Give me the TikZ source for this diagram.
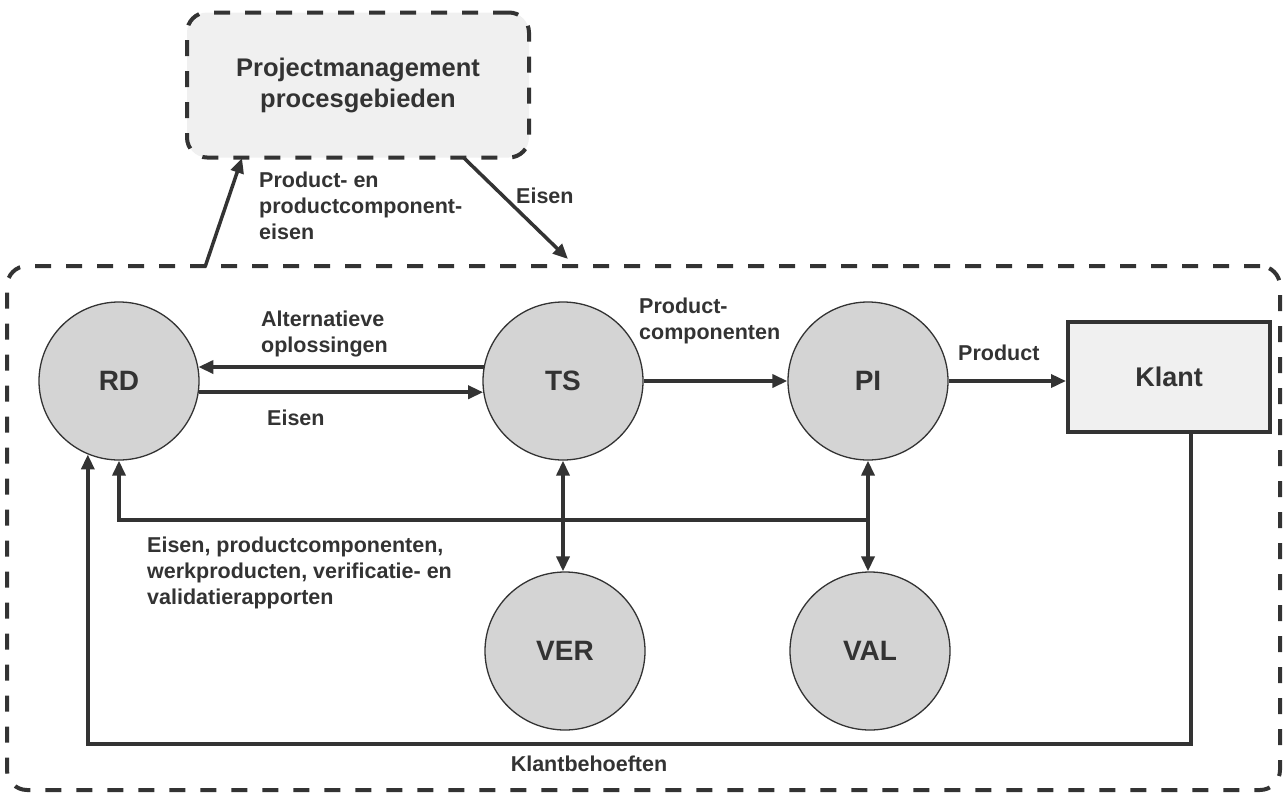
\documentclass[tikz,border=0pt]{standalone}
\usepackage{fontspec}
\setmainfont{Liberation Sans}
\usetikzlibrary{shapes.geometric,arrows.meta,calc}
\definecolor{ink}{HTML}{333333}
\definecolor{bubble}{HTML}{D4D4D4}
\definecolor{pale}{HTML}{F0F0F0}
\begin{document}
\begin{tikzpicture}[x=1pt,y=-1pt,
  lbl/.style={font=\fontsize{21.5}{26}\selectfont\bfseries, text=ink, align=left, inner sep=0pt, anchor=north west},
  proc/.style={ellipse, draw=ink, line width=1.3pt, fill=bubble, minimum width=160pt, minimum height=158pt, inner sep=0pt, text=ink, font=\fontsize{28}{32}\selectfont\bfseries},
  zone/.style={draw=ink, line width=4pt, dash pattern=on 16pt off 15pt, rounded corners=20pt, inner sep=0pt},
  tip/.tip={Triangle[length=15pt,width=13pt]},
  arr/.style={draw=ink, line width=3.5pt, -tip},
  darr/.style={draw=ink, line width=3.5pt, tip-tip},
  wire/.style={draw=ink, line width=3.5pt}
]
\useasboundingbox (0,0) rectangle (1283,793);

% engineering area and project management block
\node[zone, minimum width=1273pt, minimum height=524pt] (sys) at (643.5,528) {};
\node[zone, fill=pale, minimum width=342pt, minimum height=145pt, align=center,
      text=ink, font=\fontsize{25.5}{31}\selectfont\bfseries] (pm) at (358,85)
      {Projectmanagement\\procesgebieden};

% process areas
\node[proc] (RD)  at (119,381) {RD};
\node[proc] (TS)  at (563,381) {TS};
\node[proc] (PI)  at (868,381) {PI};
\node[proc] (VER) at (565,651) {VER};
\node[proc] (VAL) at (870,651) {VAL};
\node[draw=ink, line width=4pt, fill=pale, minimum width=202pt, minimum height=110pt,
      inner sep=0pt, text=ink, font=\fontsize{27}{32}\selectfont\bfseries] (Klant) at (1169,377) {Klant};

% links to project management
\coordinate (pe0) at (205,267);
\coordinate (pe1) at (242,158);
\draw[arr] (pe0) -- (pe1);
\coordinate (ei0) at (464,158);
\coordinate (ei1) at (568,259);
\draw[arr] (ei0) -- (ei1);

% main flow
\draw[arr] (TS.170) -- (RD.10);
\draw[arr] (RD.-8) -- (TS.188);
\draw[arr] (TS.east) -- (PI.west);
\draw[arr] (PI.east) -- (PI.east -| Klant.west);
\draw[darr] (TS.south) -- (TS.south |- VER.north);
\draw[darr] (PI.south) -- (PI.south |- VAL.north);

% feedback to RD
\coordinate (fb) at (868,520);
\draw[arr] (fb) -| (RD.south);
\coordinate (kb) at (1191,744);
\draw[arr] (kb |- Klant.south) -- (kb) -| (RD.247);

% labels
\node[lbl] (lpe) at (259,171.5) {Product- en\\productcomponent-\\eisen};
\node[lbl] (lei) at (516,187.5) {Eisen};
\node[lbl] (lalt) at (261,310.5) {Alternatieve\\oplossingen};
\node[lbl] (leis) at (267,409.5) {Eisen};
\node[lbl] (lpc) at (639,297.5) {Product-\\componenten};
\node[lbl] (lpr) at (958,344.5) {Product};
\node[lbl] (lfb) at (147,536.5) {Eisen, productcomponenten,\\werkproducten, verificatie- en\\validatierapporten};
\node[lbl, anchor=base] (lkb) at (589,771) {Klantbehoeften};
\end{tikzpicture}
\end{document}
